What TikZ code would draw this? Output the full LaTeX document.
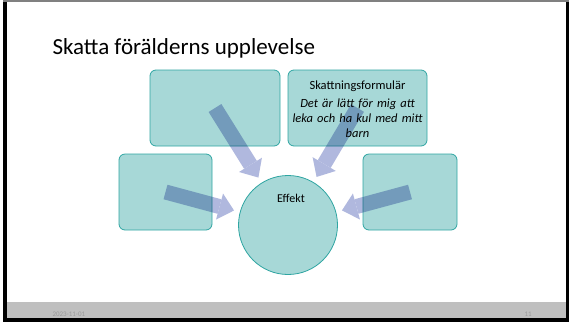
\documentclass[tikz,border=0pt]{standalone}
\usepackage{fontspec}
\setmainfont{Carlito}
\usetikzlibrary{arrows.meta}

\definecolor{boxfill}{HTML}{A7D8D7}
\definecolor{boxline}{HTML}{2FA5A2}
\definecolor{arrowfill}{HTML}{B0B8DE}
\definecolor{footer}{HTML}{BFBFBF}
\definecolor{datetext}{HTML}{9A9A9A}

\begin{document}
\begin{tikzpicture}[
            x = 1pt, y = -1pt, % one unit per pixel, y downwards
            > = {Triangle[length=15pt, width=27pt, line width=0pt]}, % block arrow head
            font = \fontsize{12.5}{15}\selectfont
        ]

        \tikzstyle{box}=[
            draw = boxline,
            fill = boxfill,
            line width = 0.8pt,
            rounded corners = 6pt,
            inner sep = 0pt
        ]
        \tikzstyle{feed}=[
            ->,
            draw = arrowfill,
            line width = 15pt,
            shorten > = 6pt % stop short of the circle
        ]

        % slide
        \useasboundingbox (0,0) rectangle (569,322);
        \fill[footer] (7,302) rectangle (566,318);
        \fill[black] (3,0) rectangle (7,322);
        \fill[black] (566,0) rectangle (569,322);
        \fill[black] (3,318) rectangle (569,322);
        \fill[gray] (3,0) rectangle (569,1.5);

        \node[anchor=base west, font=\fontsize{23}{28}\selectfont] (title) at (49,54) {Skatta förälderns upplevelse};

	\node[box, minimum width=130pt, minimum height=76pt] (empty1) at (215,108) {};
	\node[box, minimum width=139pt, minimum height=76pt,
	    label={[anchor=north, yshift=-11pt, text width=137pt, align=center, inner sep=0pt]north:Skattningsformulär\\[3pt]
	        \textit{Det är lätt för mig att\\leka och ha kul med mitt\\barn}}] (form) at (357.5,108) {};
	\node[box, minimum width=93pt, minimum height=76pt] (empty2) at (165.5,192) {};
	\node[box, minimum width=94pt, minimum height=76pt] (empty3) at (410,192) {};
	\node[box, circle, minimum size=99pt,
	    label={[anchor=north, yshift=-18.5pt, xshift=3pt, inner sep=0pt, font=\fontsize{12}{14}\selectfont]north:Effekt}] (effekt) at (288,225) {};

        % arrows multiply over the boxes
        \begin{scope}[blend mode=multiply]
            \begin{scope}[transparency group]
                \draw[feed] (empty1.center) -- (effekt);
                \draw[feed] (form.center) -- (effekt);
                \draw[feed] (empty2.center) -- (effekt);
                \draw[feed] (empty3.center) -- (effekt);
            \end{scope}
        \end{scope}

        \node[anchor=west, text=datetext, font=\fontsize{7}{8}\selectfont] (date) at (49,314) {2023-11-01};
        \node[anchor=west, text=datetext, font=\fontsize{7}{8}\selectfont] (page) at (521,314) {11};

    \end{tikzpicture}
\end{document}
